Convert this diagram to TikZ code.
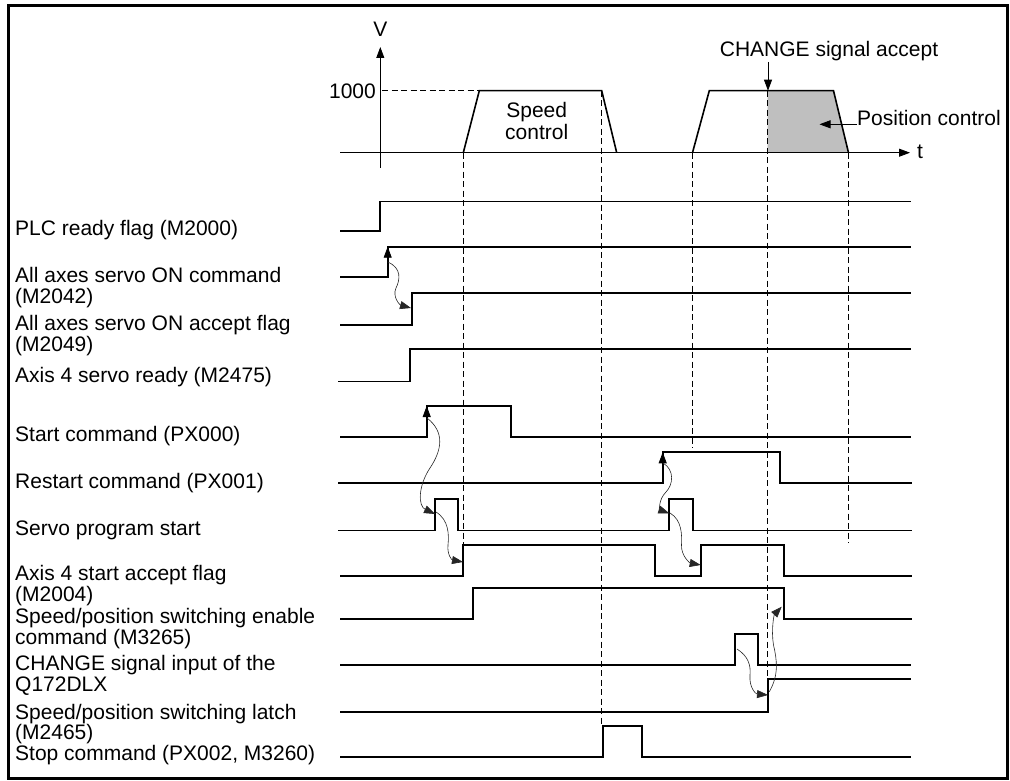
\documentclass[tikz,border=0pt]{standalone}
\usepackage{fontspec}
\setmainfont{Liberation Sans}
\usetikzlibrary{arrows.meta}
\tikzset{
  sig/.style={line width=1.8pt, line join=miter},
  axisln/.style={line width=0.8pt},
  guide/.style={line width=0.8pt, dash pattern=on 6pt off 3.5pt},
  wave/.style={line width=0.6pt, black!85, -{Triangle[length=11pt,width=8pt]}},
  headup/.style={line width=0.8pt, -{Triangle[length=11pt,width=8pt]}},
  lbl/.style={font=\fontsize{21}{21}\selectfont, inner sep=0pt, anchor=base west},
  tl/.style={font=\fontsize{21}{21}\selectfont, inner sep=0pt, anchor=base},
}
\begin{document}
\begin{tikzpicture}[x=1pt,y=-1pt]
\useasboundingbox (0,0) rectangle (1010,781);
% frame
\draw[line width=3.5pt] (8.7,5.3) rectangle (1007.5,778.5);

% ---------- velocity chart ----------
\fill[black!25] (767.5,90.7) -- (833.5,90.7) -- (848.5,152.7) -- (767.5,152.7) -- cycle;
\draw[axisln, -{Triangle[length=11pt,width=8pt]}] (380.3,168) -- (380.3,47);
\draw[axisln, -{Triangle[length=11pt,width=8pt]}] (340,152.7) -- (910,152.7);
\node[tl] (vlab) at (380.3,36.5) {V};
\node[tl] (tlab) at (920,158.5) {t};
\node[tl, anchor=base east] (vmax) at (376,99) {1000};
\draw[guide] (vmax.east |- 0,90.7) ++(6,0) -- (479.3,90.7);
\draw[sig, line width=1.6pt] (463.3,152.7) -- (479.3,90.7) -- (601.7,90.7) -- (616.7,152.7);
\draw[sig, line width=1.6pt] (692.5,152.7) -- (709.3,90.7) -- (833.5,90.7) -- (848.5,152.7);
\node[tl] (spd1) at (536.7,117.3) {Speed};
\node[tl] (spd2) at (536.7,140) {control};
\node[tl] (chacc) at (829,57) {CHANGE signal accept};
\coordinate (chpt) at (768,90.7);
\draw[axisln, -{Triangle[length=11pt,width=8pt]}] (768,62) -- (chpt);
\node[lbl] (posc) at (857,126) {Position control};
\draw[axisln, -{Triangle[length=11pt,width=8pt]}] (posc.west |- 0,124.3) -- (819.5,124.3);

% dashed guides
\draw[guide] (463.3,152.7) -- (463.3,545);
\draw[guide] (601.7,90.7) -- (601.7,725.7);
\draw[guide] (692.5,152.7) -- (692.5,448);
\draw[guide] (767.5,90.7) -- (767.5,679);
\draw[guide] (848.5,152.7) -- (848.5,543.3);

% ---------- labels ----------
\node[lbl] (l1) at (15,236) {PLC ready flag (M2000)};
\node[lbl] (l2a) at (15,282) {All axes servo ON command};
\node[lbl] (l2b) at (15,303) {(M2042)};
\node[lbl] (l3a) at (15,330) {All axes servo ON accept flag};
\node[lbl] (l3b) at (15,351) {(M2049)};
\node[lbl] (l4) at (15,382.5) {Axis 4 servo ready (M2475)};
\node[lbl] (l5) at (15,441.7) {Start command (PX000)};
\node[lbl] (l6) at (15,488.3) {Restart command (PX001)};
\node[lbl] (l7) at (15,535) {Servo program start};
\node[lbl] (l8a) at (15,580) {Axis 4 start accept flag};
\node[lbl] (l8b) at (15,601) {(M2004)};
\node[lbl] (l9a) at (15,623) {Speed/position switching enable};
\node[lbl] (l9b) at (15,644) {command (M3265)};
\node[lbl] (l10a) at (15,670) {CHANGE signal input of the};
\node[lbl] (l10b) at (15,691) {Q172DLX};
\node[lbl] (l11a) at (15,719) {Speed/position switching latch};
\node[lbl] (l11b) at (15,739) {(M2465)};
\node[lbl] (l12) at (15,760) {Stop command (PX002, M3260)};

% ---------- signals ----------
\draw[sig] (340,231) -- (380,231) -- (380,201.5) -- (911,201.5);
\draw[sig] (340,277) -- (387.7,277) -- (387.7,246.7) -- (911,246.7);
\draw[sig] (340,325) -- (411.7,325) -- (411.7,292.7) -- (911,292.7);
\draw[sig] (338,381.5) -- (410,381.5) -- (410,349.3) -- (911,349.3);
\draw[sig] (340,436.7) -- (426.7,436.7) -- (426.7,406) -- (510.7,406) -- (510.7,436.7) -- (911,436.7);
\draw[sig] (338,483) -- (662.7,483) -- (662.7,452.3) -- (780,452.3) -- (780,483) -- (912,483);
\draw[sig] (338,530.5) -- (435,530.5) -- (435,499) -- (457.7,499) -- (457.7,530.5) -- (669.3,530.5) -- (669.3,499) -- (693.3,499) -- (693.3,530.5) -- (912,530.5);
\draw[sig] (340,575.7) -- (463.3,575.7) -- (463.3,545) -- (655,545) -- (655,575.7) -- (700.7,575.7) -- (700.7,545) -- (784,545) -- (784,575.7) -- (912,575.7);
\draw[sig] (340,619) -- (473.3,619) -- (473.3,588.3) -- (784,588.3) -- (784,619) -- (912,619);
\draw[sig] (340,665) -- (735,665) -- (735,634) -- (757.7,634) -- (757.7,665) -- (911,665);
\draw[sig] (340,711.7) -- (768.3,711.7) -- (768.3,679) -- (911,679);
\draw[sig] (340,756.7) -- (603.3,756.7) -- (603.3,725.7) -- (642.3,725.7) -- (642.3,756.7) -- (911,756.7);

% rising-edge arrowheads
\draw[headup] (387.7,266) -- (387.7,246.7);
\draw[headup] (426.7,425) -- (426.7,406);
\draw[headup] (662.7,471) -- (662.7,452.3);

% wavy cause arrows
\draw[wave] (387.7,262) .. controls (402,268) and (400,280) .. (396,288) .. controls (392,297) and (400,305) .. (411,308);
\draw[wave] (427,418) .. controls (445,432) and (442,450) .. (430,468) .. controls (418,486) and (418,506) .. (435,514);
\draw[wave] (436,512) .. controls (449,520) and (449,535) .. (448,545) .. controls (447,555) and (452,560) .. (463,562);
\draw[wave] (663,463) .. controls (675,470) and (673,485) .. (666,492) .. controls (658,500) and (660,510) .. (669.3,513.3);
\draw[wave] (670,513) .. controls (682,520) and (682,535) .. (681.5,545) .. controls (681,556) and (690,563) .. (700.7,565);
\draw[wave] (737,649) .. controls (748,656) and (751,665) .. (750,675) .. controls (749,688) and (756,694) .. (768,695);
\draw[wave] (769.3,691.7) .. controls (779,675) and (777,660) .. (773.5,645) .. controls (771,630) and (774,615) .. (781.7,606.7);
\end{tikzpicture}
\end{document}
